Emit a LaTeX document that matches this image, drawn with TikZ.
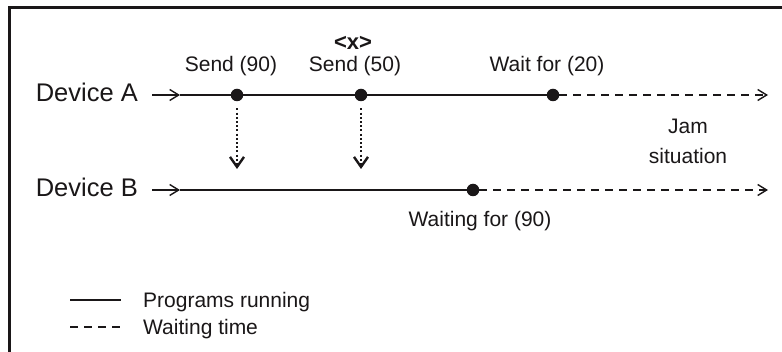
\documentclass[tikz,border=0pt]{standalone}
\usepackage{fontspec}
\setmainfont{Liberation Sans}
\usetikzlibrary{arrows.meta}
\definecolor{ink}{HTML}{1A1718}
\tikzset{
  devlabel/.style={font=\fontsize{25.5}{28}\selectfont, text=ink, inner sep=0pt},
  lab/.style={font=\fontsize{21}{27}\selectfont, text=ink, inner sep=0pt},
  dotnode/.style={circle, fill=ink, inner sep=0pt, minimum size=12.5pt},
  barb/.style={-{Straight Barb[length=9pt, width=11pt, line width=1.4pt]}},
  run/.style={draw=ink, line width=1.6pt},
  waitline/.style={draw=ink, line width=1.6pt, dash pattern=on 8pt off 6pt},
  sig/.style={draw=ink, line width=2.2pt, dash pattern=on 2pt off 2.2pt,
    -{Straight Barb[length=10pt, width=14pt, line width=2.4pt]}},
}
\begin{document}
\begin{tikzpicture}[x=1pt, y=-1pt]
\useasboundingbox (0,0) rectangle (782,352);
\fill[white] (0,0) rectangle (782,352);
% frame
\draw[ink, line width=3pt] (9,360) -- (9,8) -- (790,8);

% Device A
\node[devlabel, anchor=base east] (devA) at (138,102) {Device A};
\coordinate (aS) at (152,95);
\coordinate (aM) at (180,95);
\node[dotnode] (a1) at (237,95) {};
\node[dotnode] (a2) at (361,95) {};
\node[dotnode] (a3) at (553,95) {};
\coordinate (aE) at (768,95);
\draw[run, barb] (aS) -- (aM);
\draw[run] (aM) -- (a1) -- (a2) -- (a3);
\draw[waitline, barb] (a3) -- (aE);

% Device B
\node[devlabel, anchor=base east] (devB) at (138,197) {Device B};
\coordinate (bS) at (152,190);
\coordinate (bM) at (180,190);
\node[dotnode] (b1) at (473,190) {};
\coordinate (bE) at (768,190);
\draw[run, barb] (bS) -- (bM);
\draw[run] (bM) -- (b1);
\draw[waitline, barb] (b1) -- (bE);

% signals
\coordinate (d1) at (237,169);
\coordinate (d2) at (361,169);
\draw[sig, shorten <=7pt] (a1) -- (d1);
\draw[sig, shorten <=7pt] (a2) -- (d2);

% labels
\node[lab, anchor=base] (s90) at (231,72) {Send (90)};
\node[lab, anchor=base] (s50) at (355,72) {Send (50)};
\node[lab, anchor=base, font=\fontsize{22}{26}\selectfont\bfseries] (xx) at (353,50) {<x>};
\node[lab, anchor=base] (w20) at (547,72) {Wait for (20)};
\node[lab, anchor=base] (w90) at (480,227) {Waiting for (90)};
\node[lab, align=center, anchor=base] (jam) at (688,164) {Jam\\[3pt]situation};

% legend
\coordinate (l1a) at (70,300);
\coordinate (l1b) at (121,300);
\coordinate (l2a) at (70,327);
\coordinate (l2b) at (122,327);
\draw[run] (l1a) -- (l1b);
\draw[waitline] (l2a) -- (l2b);
\node[lab, anchor=base west] (leg1) at (143,308) {Programs running};
\node[lab, anchor=base west] (leg2) at (143,335) {Waiting time};
\end{tikzpicture}
\end{document}
